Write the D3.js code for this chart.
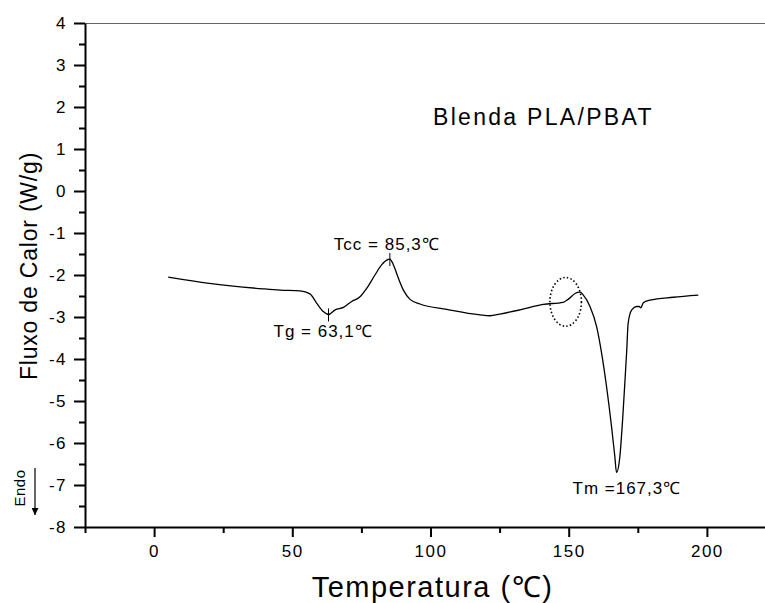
<!DOCTYPE html>
<html>
<head>
<meta charset="utf-8">
<script src="https://cdn.jsdelivr.net/npm/d3@7"></script>
<style>
  html, body { margin: 0; padding: 0; background: #fff; }
  svg { display: block; font-family: "Liberation Sans", Arial, Helvetica, sans-serif; }
</style>
</head>
<body>
<div id="chart"></div>
<script>
// DSC curve (temperature in °C, heat flow in W/g)
const temperature = [5.1, 20, 39.5, 45.6, 52.8, 56.4, 58.8, 61.2, 63.1, 65.5, 68.5, 71.5, 74.5, 76.9,
  79.9, 82.3, 84.7, 85.3, 86.6, 88.4, 90.2, 92.6, 96.2, 105.9, 117.9, 121.5, 125.1, 132.4, 140.8,
  148, 149.8, 152.3, 154.1, 155.3, 157.7, 160.1, 161.9, 163.7, 165.5, 166.7, 167.3, 168.5, 169.5,
  170.3, 171, 171.5, 172.8, 174.6, 175.5, 176.1, 177, 179.4, 187.8, 196.9]
const heatFlow = [-2.05, -2.2, -2.33, -2.36, -2.38, -2.45, -2.67, -2.87, -2.94, -2.83, -2.77, -2.63, -2.52, -2.32,
  -2.0, -1.76, -1.63, -1.62, -1.76, -2.08, -2.36, -2.58, -2.69, -2.82, -2.95, -2.97, -2.93, -2.83, -2.70,
  -2.65, -2.58, -2.44, -2.41, -2.48, -2.75, -3.23, -3.86, -4.66, -5.61, -6.33, -6.7, -6.33, -5.45,
  -4.58, -3.79, -3.15, -2.83, -2.75, -2.75, -2.78, -2.66, -2.6, -2.53, -2.48]

const xMajorTicks = [0, 50, 100, 150, 200]
const xMinorTicks = [-25, 25, 75, 125, 175, 225]
const yMajorTicks = [-8, -7, -6, -5, -4, -3, -2, -1, 0, 1, 2, 3, 4]
const yMinorTicks = d3.range(-7.5, 4, 1)

// annotations: label, anchor temperature / heat flow
const peakLabels = ['Tcc = 85,3\u2103', 'Tg = 63,1\u2103', 'Tm =167,3\u2103']
const peakTemps = [85.3, 63.1, 167.3]
const peakFlows = [-1.62, -2.94, -6.7]
const markedPeaks = [85.3, 63.1]

const width = 765
const height = 603

const x = d3.scaleLinear().domain([-25, 225]).range([85, 776])
const y = d3.scaleLinear().domain([-8, 4]).range([527, 23])

const svg = d3.select('#chart').append('svg')
  .attr('width', width)
  .attr('height', height)

// thin frame line at the top
svg.append('line')
  .attr('x1', x(-25)).attr('x2', width)
  .attr('y1', y(4) + 0.5).attr('y2', y(4) + 0.5)
  .attr('stroke', '#666')
  .attr('stroke-width', 1)

function styleAxis(g) {
  g.select('.domain').attr('stroke', '#000').attr('stroke-width', 2)
  g.selectAll('.tick line').attr('stroke', '#000').attr('stroke-width', 2)
  g.selectAll('.tick text')
    .attr('fill', '#000')
    .attr('font-size', 17)
    .attr('letter-spacing', 1.5)
    .attr('font-family', '"Liberation Sans", Arial, sans-serif')
}

const plainNumber = d => String(d)

// x axis
svg.append('g').attr('transform', `translate(0,${y(-8)})`)
  .call(d3.axisBottom(x).tickValues(xMajorTicks).tickSize(10).tickSizeOuter(0).tickPadding(8).tickFormat(plainNumber))
  .call(styleAxis)
svg.append('g').attr('transform', `translate(0,${y(-8)})`)
  .call(d3.axisBottom(x).tickValues(xMinorTicks).tickSize(6).tickSizeOuter(0).tickFormat(''))
  .call(styleAxis)
  .call(g => g.select('.domain').remove())

// y axis
svg.append('g').attr('transform', `translate(${x(-25)},0)`)
  .call(d3.axisLeft(y).tickValues(yMajorTicks).tickSize(11).tickSizeOuter(0).tickPadding(7).tickFormat(plainNumber))
  .call(styleAxis)
svg.append('g').attr('transform', `translate(${x(-25)},0)`)
  .call(d3.axisLeft(y).tickValues(yMinorTicks).tickSize(6).tickSizeOuter(0).tickFormat(''))
  .call(styleAxis)
  .call(g => g.select('.domain').remove())

// curve
const line = d3.line()
  .x((d, i) => x(temperature[i]))
  .y(d => y(d))
  .curve(d3.curveMonotoneX)

svg.append('path')
  .datum(heatFlow)
  .attr('d', line)
  .attr('fill', 'none')
  .attr('stroke', '#000')
  .attr('stroke-width', 1.3)

// small vertical markers at Tcc and Tg
svg.selectAll('.marker')
  .data(markedPeaks)
  .join('line')
  .attr('class', 'marker')
  .attr('x1', d => x(d)).attr('x2', d => x(d))
  .attr('y1', (d, i) => y(peakFlows[i]) - 6)
  .attr('y2', (d, i) => y(peakFlows[i]) + 7)
  .attr('stroke', '#000')
  .attr('stroke-width', 1)

// peak labels
const labelDx = [-56, -55, -44]
const labelDy = [-9, 23, 22]
svg.selectAll('.peak-label')
  .data(peakLabels)
  .join('text')
  .attr('class', 'peak-label')
  .attr('x', (d, i) => x(peakTemps[i]) + labelDx[i])
  .attr('y', (d, i) => y(peakFlows[i]) + labelDy[i])
  .attr('font-size', 17)
  .attr('letter-spacing', 1)
  .text(d => d)

// dotted ellipse around the small event near 149 °C
svg.append('ellipse')
  .attr('cx', x(148.9))
  .attr('cy', y(-2.64))
  .attr('rx', x(148.9 + 5.7) - x(148.9))
  .attr('ry', y(-2.64 - 0.58) - y(-2.64))
  .attr('fill', 'none')
  .attr('stroke', '#000')
  .attr('stroke-width', 1.6)
  .attr('stroke-dasharray', '1.5,2.2')

// sample title
svg.append('text')
  .attr('x', 433)
  .attr('y', 125)
  .attr('font-size', 23)
  .attr('letter-spacing', 2.3)
  .text('Blenda PLA/PBAT')

// axis titles
svg.append('text')
  .attr('x', (310 + 555) / 2)
  .attr('y', 597)
  .attr('text-anchor', 'middle')
  .attr('font-size', 29)
  .attr('letter-spacing', 1.5)
  .text('Temperatura (\u2103)')

svg.append('text')
  .attr('transform', 'translate(37,266) rotate(-90)')
  .attr('text-anchor', 'middle')
  .attr('font-size', 23)
  .attr('letter-spacing', 0.8)
  .text('Fluxo de Calor (W/g)')

// Endo arrow
svg.append('defs').append('marker')
  .attr('id', 'arrow')
  .attr('viewBox', '0 0 10 10')
  .attr('refX', 10).attr('refY', 5)
  .attr('markerWidth', 14).attr('markerHeight', 7)
  .attr('markerUnits', 'userSpaceOnUse')
  .attr('orient', 'auto')
  .append('path')
  .attr('d', 'M0,0 L10,5 L0,10 Z')
  .attr('fill', '#000')

svg.append('line')
  .attr('x1', 35).attr('x2', 35)
  .attr('y1', 468).attr('y2', 515)
  .attr('stroke', '#000')
  .attr('stroke-width', 1.2)
  .attr('marker-end', 'url(#arrow)')

svg.append('text')
  .attr('transform', 'translate(25,488) rotate(-90)')
  .attr('text-anchor', 'middle')
  .attr('font-size', 15)
  .attr('letter-spacing', 0.5)
  .text('Endo')
</script>
</body>
</html>
